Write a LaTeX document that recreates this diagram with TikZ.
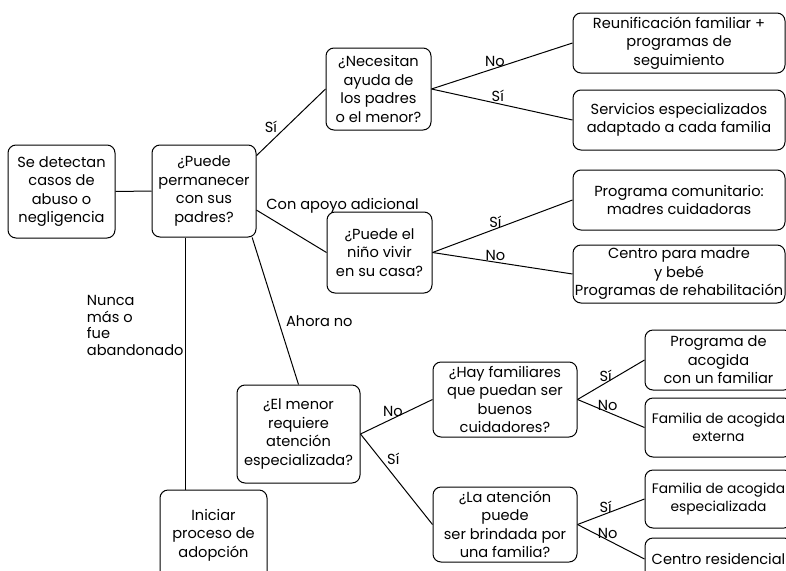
\documentclass[tikz,border=0pt]{standalone}
\usepackage{fontspec}
\setmainfont{Poppins}

\begin{document}
\begin{tikzpicture}[%
          x=1pt, y=-1pt,
          line width=1pt,
          every node/.style={font=\fontsize{14.6}{18.5}\selectfont},
          box/.style={draw, rounded corners=8pt, align=center, inner sep=0pt},
          narrow/.style={font=\fontsize{13.8}{18.5}\selectfont},
          lbl/.style={inner sep=1pt}]

  \useasboundingbox (0,0) rectangle (786,570);

  \node[box,minimum width=107pt,minimum height=93pt] (detect) at (61.5,191.5) {Se detectan\\casos de\\abuso o\\negligencia};
  \node[box,minimum width=104pt,minimum height=92pt] (puede) at (204,191) {¿Puede\\permanecer\\con sus\\padres?};

  \node[box,minimum width=105pt,minimum height=82pt] (necesitan) at (378.5,89) {¿Necesitan\\ayuda de\\los padres\\o el menor?};
  \node[box,minimum width=212pt,minimum height=60pt] (reunif) at (679,43) {Reunificación familiar +\\programas de\\seguimiento};
  \node[box,minimum width=212pt,minimum height=60pt] (servicios) at (679,120) {Servicios especializados\\adaptado a cada familia};

  \node[box,minimum width=105pt,minimum height=81pt] (ninio) at (379.5,252.5) {¿Puede el\\niño vivir\\en su casa?};
  \node[box,minimum width=212pt,minimum height=60pt] (comunit) at (679,200) {Programa comunitario:\\madres cuidadoras};
  \node[box,minimum width=212pt,minimum height=58pt] (madre) at (679,274) {Centro para madre\\y bebé\\Programas de rehabilitación};

  \node[box,minimum width=123pt,minimum height=98pt] (menor) at (298.5,434) {¿El menor\\requiere\\atención\\especializada?};
  \node[box,minimum width=144pt,minimum height=75pt] (hay) at (505,399.5) {¿Hay familiares\\que puedan ser\\buenos\\cuidadores?};
  \node[box,minimum width=144pt,minimum height=75pt] (atencion) at (505,524.5) {¿La atención\\puede\\ser brindada por\\una familia?};

  \node[box,minimum width=147pt,minimum height=60pt] (acogfam) at (718.5,360) {Programa de\\acogida\\con un familiar};
  \node[box,narrow,minimum width=147pt,minimum height=59pt] (externa) at (718.5,427.5) {Familia de acogida\\externa};
  \node[box,narrow,minimum width=147pt,minimum height=58pt] (especial) at (718.5,499) {Familia de acogida\\especializada};
  \node[box,minimum width=147pt,minimum height=42pt] (resid) at (718.5,559) {Centro residencial};

  \node[box,minimum width=107pt,minimum height=90pt] (adopt) at (213.5,535) {Iniciar\\proceso de\\adopción};

  \draw (detect.east) -- (puede.west);

  \draw (puede.34) -- node[lbl,pos=0.32,above left] (siNec) {Sí} (necesitan.west);
  \draw (necesitan.east) -- node[lbl,pos=0.45,above] (noReun) {No} (reunif.west);
  \draw (necesitan.east) -- node[lbl,pos=0.47,above] (siServ) {Sí} (servicios.west);

  \draw (puede.-20) -- node[lbl,pos=0.12,above right] (apoyo) {Con apoyo adicional} (ninio.west);
  \draw (ninio.east) -- node[lbl,pos=0.45,above] (siCom) {Sí} (comunit.west);
  \draw (ninio.east) -- node[lbl,pos=0.45,above] (noMad) {No} (madre.west);

  \draw (puede.-44) -- node[lbl,pos=0.57,right=6pt] (ahora) {Ahora no} (menor.north);
  \draw (menor.east) -- node[lbl,pos=0.45,above] (noHay) {No} (hay.west);
  \draw (menor.east) -- node[lbl,pos=0.35,above right] (siAte) {Sí} (atencion.west);

  \draw (hay.east) -- node[lbl,pos=0.42,above] (siFam) {Sí} (acogfam.west);
  \draw (hay.east) -- node[lbl,pos=0.45,above] (noExt) {No} (externa.west);
  \draw (atencion.east) -- node[lbl,pos=0.42,above] (siEsp) {Sí} (especial.west);
  \draw (atencion.east) -- node[lbl,pos=0.45,above] (noRes) {No} (resid.west);

  \draw ([xshift=-19pt]puede.south) -- node[lbl,pos=0.35,left,align=left,font=\fontsize{14.6}{16.5}\selectfont] (nunca) {Nunca\\más o\\fue\\abandonado} ([xshift=-28.5pt]adopt.north);

\end{tikzpicture}
\end{document}
